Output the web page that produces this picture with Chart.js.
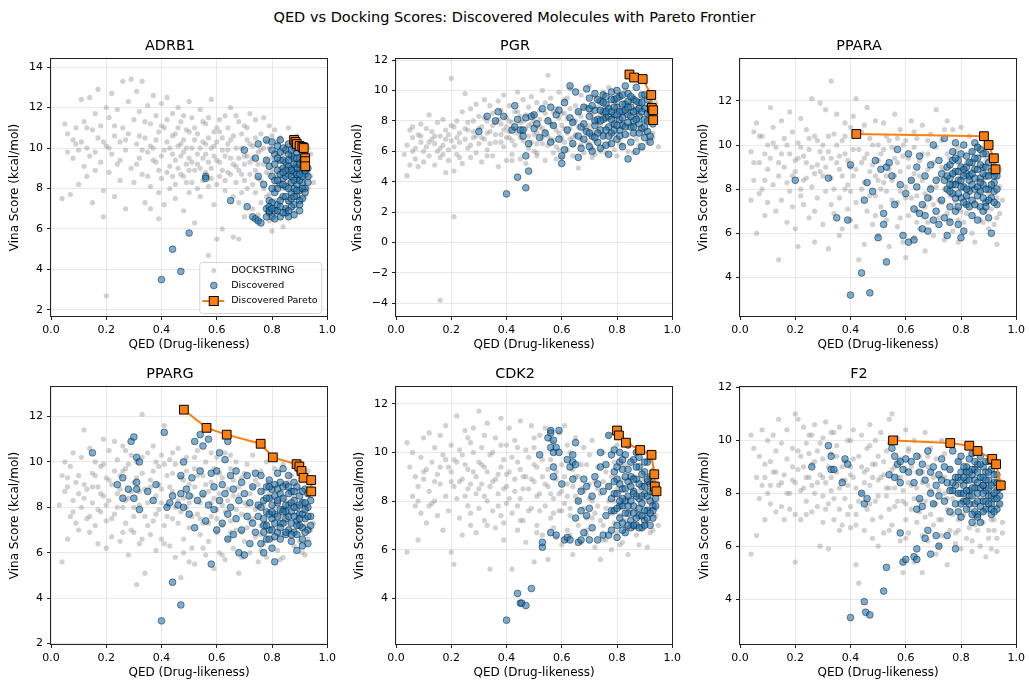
<!DOCTYPE html>
<html>
<head>
<meta charset="utf-8">
<script src="https://cdn.jsdelivr.net/npm/chart.js@4.4.1/dist/chart.umd.min.js"></script>
<style>
  body { margin: 0; width: 1029px; height: 681px; overflow: hidden; background: #fff; font-family: "DejaVu Sans", sans-serif; }
  #suptitle { position: absolute; left: 0; top: 9px; width: 1029px; text-align: center; font-size: 14.5px; line-height: 17px; color: #000; }
  canvas { position: absolute; }
</style>
</head>
<body>
<div id="suptitle">QED vs Docking Scores: Discovered Molecules with Pareto Frontier</div>
<script>
// ---- data: [QED, Vina score] ----
const legendLabels = ['DOCKSTRING', 'Discovered', 'Discovered Pareto'];
const targets = ['ADRB1', 'PGR', 'PPARA', 'PPARG', 'CDK2', 'F2'];
const xTicks = [0, 0.2, 0.4, 0.6, 0.8, 1.0];

// ADRB1
const adrb1Dock = [[.04,7.5],[.05,11.2],[.06,9.8],[.06,10.7],[.07,7.7],[.08,9.5],[.08,10.4],[.09,11.0],[.10,8.2],[.10,9.9],
  [.11,12.4],[.11,10.3],[.12,9.1],[.12,11.3],[.13,8.6],[.13,10.0],[.14,12.5],[.14,9.6],[.15,7.3],[.15,10.9],[.16,11.7],[.16,8.9],[.17,12.9],[.17,10.5],[.18,9.3],[.18,11.1],[.19,7.9],[.19,6.6],
  [.20,2.7],[.20,10.1],[.20,12.0],[.21,8.8],[.21,11.5],[.22,9.7],[.22,12.7],[.23,10.6],[.23,7.6],[.24,11.9],[.24,9.2],[.25,10.3],[.25,8.4],[.26,13.3],[.26,11.0],[.27,9.9],[.27,7.0],[.28,12.3],[.28,10.7],[.29,13.4],[.29,9.0],[.30,11.4],
  [.30,8.3],[.31,10.2],[.31,12.8],[.32,9.5],[.32,11.8],[.33,13.3],[.33,8.7],[.34,10.5],[.34,7.3],[.35,12.1],[.35,9.8],[.36,11.2],[.36,8.1],[.37,10.0],[.37,12.6],[.38,9.3],[.38,11.6],[.39,7.8],[.39,10.8],[.40,12.2],[.40,9.6],[.40,8.5],[.39,6.5],[.36,7.0],
  [.41,11.0],[.41,7.2],[.42,10.3],[.42,12.5],[.43,9.1],[.43,8.0],[.44,11.7],[.44,10.6],[.45,9.4],[.45,7.5],[.46,12.0],[.46,10.1],[.47,8.7],[.47,11.3],[.48,9.8],[.48,6.9],[.49,10.9],[.49,8.3],[.50,12.3],[.50,9.5],[.50,7.8],[.48,10.4],[.46,9.0],[.44,8.6],
  [.51,11.5],[.51,10.0],[.52,8.9],[.52,6.3],[.53,10.7],[.53,9.2],[.54,11.9],[.54,7.6],[.55,10.3],[.55,8.4],[.56,9.7],[.56,11.2],[.57,4.7],[.57,8.1],[.57,10.5],[.58,9.0],[.58,12.4],[.59,7.2],[.59,10.1],[.60,5.5],[.60,9.4],[.60,11.0],
  [.61,8.6],[.61,10.8],[.62,6.0],[.62,9.9],[.63,11.6],[.63,7.9],[.64,10.2],[.64,8.8],[.65,9.5],[.65,12.0],[.66,5.6],[.66,10.6],[.67,8.3],[.67,9.1],[.68,5.5],[.68,11.3],[.68,7.3],[.69,10.0],[.69,8.7],[.70,9.6],[.70,11.1],[.70,6.6],
  [.71,10.4],[.71,8.0],[.72,9.3],[.72,11.7],[.73,7.0],[.73,10.1],[.74,8.9],[.74,11.4],[.75,9.8],[.75,6.7],[.76,10.7],[.76,8.4],[.77,11.5],[.77,9.2],[.78,7.6],[.78,10.3],[.79,8.7],[.79,11.1],[.80,5.9],[.80,9.5],[.80,7.1],[.79,6.4],
  [.81,10.9],[.81,8.1],[.82,9.8],[.82,6.8],[.83,10.5],[.83,7.5],[.84,6.1],[.85,9.1],[.86,11.0],[.86,7.3],[.87,8.5],[.88,6.9],[.89,10.6],[.90,8.0],[.91,9.4],[.92,7.6],[.93,8.8],[.94,9.7],[.95,8.3],[.93,10.0],
  [.31,9.2],[.32,10.6],[.33,9.9],[.34,11.3],[.35,8.6],[.36,10.1],[.37,9.4],[.38,10.4],[.39,8.9],[.40,11.1],[.41,9.9],[.42,8.8],[.42,11.4],[.43,10.0],[.44,9.7],[.45,10.7],[.45,8.2],[.46,11.0],[.47,9.6],[.47,10.2],
  [.48,8.6],[.48,11.6],[.49,9.2],[.49,10.0],[.50,10.8],[.50,8.9],[.51,9.3],[.51,8.3],[.52,10.4],[.52,11.0],[.53,9.7],[.53,8.0],[.54,10.0],[.54,9.0],[.55,11.3],[.55,9.5],[.56,8.8],[.56,10.2],[.57,9.3],[.57,11.5],
  [.58,10.0],[.58,8.5],[.59,9.6],[.59,10.8],[.60,8.2],[.60,10.3],[.61,9.3],[.61,11.4],[.62,8.9],[.62,10.5],[.63,9.6],[.63,8.4],[.64,9.9],[.64,11.0],[.65,8.7],[.65,10.4],[.66,9.2],[.66,7.6],[.67,10.0],[.67,11.6],
  [.68,9.5],[.68,8.9],[.69,10.7],[.69,7.8],[.70,9.2],[.70,8.4],[.71,9.6],[.71,11.0],[.72,8.7],[.72,10.2],[.73,9.5],[.73,8.2],[.74,10.5],[.74,7.8],[.75,9.2],[.75,8.5],[.76,9.9],[.76,7.3],[.77,10.0],[.77,8.0],
  [.78,9.4],[.78,8.8],[.79,10.0],[.79,7.7],[.80,8.9],[.80,10.6],[.81,9.4],[.81,7.4],[.82,8.6],[.82,10.3],[.83,9.0],[.84,8.0],[.84,9.7],[.85,7.0],[.85,10.1],[.86,8.3],[.87,9.5],[.88,7.8],[.89,8.9],[.90,9.9],
  [.91,7.9],[.92,9.0],[.93,8.0],[.94,8.6],[.27,10.4],[.25,9.4],[.23,11.1],[.21,10.0],[.19,10.3],[.16,9.8],[.13,11.0],[.09,10.2]];
const adrb1Disc = [[.40,3.5],[.44,5.0],[.47,3.9],[.50,5.8],[.56,8.6],[.56,8.5],[.65,7.4],[.70,9.9],[.71,7.1],[.73,6.6],[.74,6.5],[.75,6.4],[.76,6.3],[.74,9.5],[.75,10.2],[.75,8.6],[.77,8.2],[.78,10.4],
  [.78,7.0],[.78,9.4],[.79,6.8],[.79,9.1],[.79,7.4],[.80,10.3],[.80,8.6],[.80,6.6],[.81,9.7],[.81,7.8],[.81,6.9],[.82,10.1],[.82,8.9],[.82,7.2],[.83,9.4],[.83,8.2],[.83,6.6],[.83,10.4],[.84,9.0],[.84,7.6],[.84,8.5],[.85,9.9],[.85,8.1],[.85,7.0],[.85,9.3],
  [.86,10.2],[.86,8.7],[.86,7.4],[.86,6.6],[.87,9.6],[.87,8.3],[.87,7.8],[.87,9.0],[.88,10.0],[.88,8.8],[.88,7.2],[.88,8.0],[.88,9.5],[.89,9.2],[.89,7.6],[.89,8.5],[.89,9.8],[.90,8.9],[.90,7.9],[.90,6.9],[.90,9.5],[.91,8.3],[.91,9.1],[.91,7.5],[.91,9.8],
  [.92,8.7],[.92,8.0],[.92,9.3],[.93,8.6],[.93,9.0],[.84,10.0],[.86,9.7],[.83,7.4],[.87,7.1],[.89,8.2],[.90,10.1],[.82,8.0],[.80,7.3],[.85,6.8],
  [.80,9.9],[.81,8.4],[.82,9.5],[.83,8.7],[.83,9.8],[.84,8.2],[.84,9.4],[.85,8.6],[.85,7.6],[.86,9.1],[.86,8.0],[.87,9.9],[.87,8.6],[.87,7.5],[.88,9.2],[.88,8.4],[.88,7.6],[.89,9.0],[.89,8.7],[.89,7.9],
  [.90,9.2],[.90,8.4],[.90,7.4],[.91,8.6],[.91,9.4],[.91,8.0],[.92,8.9],[.92,9.6],[.92,7.8],[.93,8.3],[.86,9.4],[.85,8.9],[.84,8.8],[.82,8.4],[.81,9.2],[.80,8.0],[.79,7.1],[.79,6.9],[.78,6.6],[.80,7.0],
  [.81,6.5],[.82,6.9],[.83,7.1],[.84,6.8],[.86,6.9],[.88,6.7],[.90,7.2],[.87,8.9],[.89,9.5],[.90,8.7]];
const adrb1Pareto = [[.88,10.4],[.885,10.3],[.89,10.2],[.90,10.1],[.91,10.05],[.915,10.0],[.92,9.5],[.92,9.35],[.92,9.1]];

// PGR
const pgrDock = [[.03,5.8],[.04,4.4],[.04,6.4],[.05,7.4],[.05,5.1],[.06,6.9],[.06,7.6],[.07,5.5],[.07,6.2],[.08,7.1],[.08,5.0],[.09,6.6],[.09,7.8],[.10,6.0],[.10,5.3],
  [.11,7.5],[.11,6.3],[.12,8.4],[.12,5.7],[.13,6.8],[.13,7.3],[.14,5.1],[.14,6.5],[.15,7.9],[.15,6.0],[.16,-3.8],[.16,7.0],[.16,5.6],[.17,6.4],[.17,8.1],[.18,4.6],[.18,7.4],[.19,6.1],[.19,5.4],[.20,10.8],[.20,7.7],[.20,6.7],
  [.21,1.7],[.21,4.7],[.21,6.3],[.22,8.0],[.22,5.8],[.23,7.2],[.23,6.6],[.24,8.6],[.24,5.2],[.25,7.5],[.25,9.8],[.26,6.2],[.26,7.9],[.27,5.6],[.27,8.8],[.28,6.9],[.28,7.3],[.29,9.1],[.29,5.9],[.30,8.3],[.30,6.5],
  [.31,7.6],[.31,5.3],[.32,9.4],[.32,6.8],[.33,8.0],[.33,6.1],[.34,7.3],[.34,9.0],[.35,5.7],[.35,8.5],[.36,6.6],[.36,7.9],[.37,9.3],[.37,5.0],[.38,7.1],[.38,8.7],[.39,6.3],[.39,9.7],[.40,7.6],[.40,5.4],[.40,8.2],
  [.41,6.9],[.41,9.0],[.42,5.8],[.42,7.9],[.43,8.6],[.43,6.4],[.44,9.9],[.44,7.2],[.45,5.5],[.45,8.3],[.46,6.7],[.46,9.4],[.47,7.5],[.47,5.2],[.48,8.9],[.48,6.2],[.49,7.8],[.49,9.6],[.50,6.0],[.50,8.4],[.50,7.1],
  [.51,9.2],[.51,5.7],[.52,7.6],[.52,8.7],[.53,6.5],[.53,10.0],[.54,7.3],[.54,5.4],[.55,11.0],[.55,8.1],[.56,6.8],[.56,9.5],[.57,7.7],[.57,5.9],[.58,8.8],[.58,6.3],[.59,9.9],[.59,7.2],[.60,5.6],[.60,8.5],[.60,6.9],
  [.61,9.4],[.61,7.5],[.62,6.1],[.62,8.2],[.63,10.1],[.63,6.8],[.64,7.9],[.64,5.7],[.65,9.0],[.65,7.1],[.66,4.9],[.66,8.6],[.67,6.4],[.67,9.7],[.68,7.4],[.68,5.9],[.69,8.9],[.69,6.6],[.70,10.3],[.70,7.7],
  [.71,6.2],[.71,8.4],[.72,9.6],[.72,5.8],[.73,7.3],[.73,8.9],[.74,6.0],[.75,9.9],[.75,7.0],[.76,5.9],[.76,8.6],[.77,10.2],[.77,6.5],[.78,7.8],[.79,9.3],[.79,6.1],[.80,8.1],[.80,5.7],
  [.81,9.7],[.82,6.4],[.83,7.6],[.83,10.0],[.84,6.0],[.85,8.5],[.86,5.9],[.86,9.6],[.87,6.8],[.88,7.4],[.89,6.2],[.90,9.0],[.91,6.6],[.92,7.9],[.93,6.9],[.94,8.6],[.95,6.3],[.94,9.2],[.93,7.2],
  [.25,6.8],[.26,7.4],[.27,6.4],[.28,8.0],[.29,7.0],[.30,7.5],[.31,6.9],[.32,8.2],[.33,7.2],[.34,6.5],[.35,7.7],[.36,7.1],[.37,8.1],[.38,6.6],[.39,7.4],[.40,6.9],[.41,8.0],[.41,7.3],[.42,6.7],[.43,7.5],
  [.44,8.6],[.45,6.9],[.45,7.9],[.46,7.3],[.47,8.4],[.48,7.0],[.48,7.7],[.49,6.6],[.50,8.0],[.51,7.2],[.51,6.5],[.52,8.1],[.53,7.5],[.53,6.9],[.54,8.5],[.55,7.0],[.55,6.4],[.56,7.8],[.57,8.6],[.57,6.7],
  [.58,7.4],[.59,8.2],[.59,6.1],[.60,7.7],[.61,8.5],[.61,6.6],[.62,7.2],[.63,8.8],[.63,7.5],[.64,6.4],[.65,8.0],[.65,7.0],[.66,7.6],[.67,8.3],[.67,6.8],[.68,8.9],[.69,7.5],[.70,6.5],[.70,8.6],[.71,7.4],
  [.72,8.0],[.72,6.7],[.73,9.3],[.74,7.8],[.74,8.4],[.75,6.3],[.76,7.5],[.77,8.9],[.78,6.8],[.78,8.2],[.79,7.2],[.80,9.2],[.81,6.5],[.82,7.9],[.83,8.6],[.84,7.1],[.85,9.3],[.86,7.6],[.87,8.3],[.88,6.4],
  [.89,8.8],[.90,7.2],[.91,8.0],[.92,6.8],[.14,7.0],[.16,6.2],[.18,6.8],[.19,7.1],[.21,7.6],[.22,6.9],[.23,5.6],[.17,5.8],[.12,6.6],[.09,7.0],[.06,6.0],[.54,9.2],[.46,8.0],[.38,7.8],[.33,5.7],[.42,5.4],
  [.51,5.9],[.58,5.5],[.64,6.9],[.71,5.6],[.62,9.5]];
const pgrDisc = [[.30,7.3],[.33,8.3],[.36,8.0],[.37,8.6],[.39,8.3],[.40,3.2],[.42,7.4],[.43,7.6],[.43,9.0],[.44,8.1],[.44,4.3],[.45,7.4],[.46,7.0],[.46,7.4],[.47,3.6],[.47,5.7],[.47,8.2],[.48,6.5],[.48,4.7],[.49,8.3],
  [.50,7.5],[.50,8.4],[.51,7.8],[.52,6.9],[.53,8.8],[.54,7.2],[.55,8.0],[.56,6.6],[.56,8.9],[.57,7.7],[.58,8.4],[.59,6.8],[.59,8.7],[.60,5.2],[.60,5.7],[.61,6.1],[.61,9.2],[.62,7.4],[.63,10.3],[.63,8.2],
  [.64,6.5],[.64,7.9],[.65,9.9],[.66,5.6],[.66,7.0],[.66,8.6],[.67,6.2],[.67,7.6],[.68,8.9],[.68,6.8],[.69,10.1],[.69,7.3],[.70,6.3],[.70,8.3],[.70,9.5],[.71,7.0],[.71,6.0],[.72,8.7],[.72,9.8],[.72,7.7],
  [.73,6.6],[.73,8.1],[.74,9.3],[.74,7.4],[.74,6.2],[.75,8.6],[.75,9.7],[.75,7.0],[.76,6.4],[.76,8.2],[.76,9.1],[.77,7.6],[.77,5.8],[.77,8.8],[.78,9.9],[.78,7.2],[.78,6.5],[.79,8.4],[.79,9.4],[.79,7.8],
  [.80,6.8],[.80,8.9],[.80,10.0],[.81,7.4],[.81,8.1],[.81,9.6],[.82,6.3],[.82,8.6],[.82,7.7],[.83,10.3],[.83,9.1],[.83,7.1],[.84,5.5],[.84,8.4],[.84,9.8],[.85,7.6],[.85,8.9],[.85,6.6],[.86,9.4],[.86,8.0],
  [.86,7.2],[.87,10.2],[.87,8.7],[.87,6.0],[.88,9.2],[.88,7.8],[.88,8.3],[.89,6.3],[.89,9.7],[.89,7.5],[.90,8.8],[.90,6.9],[.90,8.1],[.91,9.4],[.91,7.3],[.92,8.5],[.92,7.0],[.92,6.6],[.93,7.8],[.93,8.9],
  [.70,8.8],[.71,9.0],[.72,8.0],[.73,9.4],[.73,7.2],[.74,8.7],[.75,8.1],[.75,9.2],[.76,7.4],[.76,9.6],[.77,8.3],[.77,7.0],[.78,8.6],[.78,9.4],[.79,7.4],[.79,8.9],[.80,7.7],[.80,9.5],[.81,8.6],[.81,7.0],
  [.82,9.1],[.82,8.2],[.83,7.6],[.83,8.7],[.84,9.3],[.84,7.9],[.85,8.3],[.85,9.6],[.86,8.6],[.86,7.6],[.87,9.3],[.87,8.1],[.88,8.8],[.88,7.2],[.89,8.6],[.89,9.2],[.90,7.6],[.90,9.7],[.91,8.5],[.91,8.0],
  [.92,9.0],[.78,8.1],[.80,8.4],[.82,9.7],[.84,8.9],[.76,8.6],[.74,8.0],[.72,6.9],[.70,7.2],[.68,7.8]];
const pgrPareto = [[.845,11.05],[.862,10.85],[.893,10.75],[.924,9.7],[.926,8.85],[.931,8.7],[.931,8.05]];

// PPARA
const pparaDock = [[.04,9.7],[.04,7.5],[.05,10.6],[.05,8.4],[.06,11.0],[.06,6.0],[.07,9.2],[.07,7.8],[.08,10.4],[.08,8.0],[.09,6.8],[.09,9.6],[.10,8.9],[.10,10.0],[.10,7.4],
  [.11,11.7],[.11,9.4],[.12,8.2],[.12,10.8],[.13,7.0],[.13,9.9],[.14,4.8],[.14,8.6],[.15,11.1],[.15,7.5],[.16,10.3],[.16,9.0],[.17,6.5],[.17,8.3],[.18,11.5],[.18,9.6],[.19,7.2],[.19,10.6],[.20,8.8],[.20,6.2],[.20,9.3],
  [.21,5.4],[.21,10.1],[.22,8.0],[.22,11.2],[.23,9.5],[.23,7.3],[.24,10.7],[.24,8.5],[.25,6.7],[.25,9.8],[.26,12.1],[.26,8.1],[.27,5.6],[.27,10.4],[.28,9.1],[.28,7.6],[.29,11.9],[.29,8.8],[.30,6.4],[.30,10.0],[.30,9.4],
  [.31,11.6],[.31,7.9],[.32,9.7],[.32,5.3],[.33,12.9],[.33,8.5],[.34,10.5],[.34,6.9],[.35,9.2],[.35,11.4],[.36,7.6],[.36,8.9],[.37,10.2],[.37,6.2],[.38,9.6],[.38,11.0],[.39,8.2],[.39,7.1],[.40,10.8],[.40,9.0],[.40,6.6],
  [.41,8.6],[.41,11.3],[.42,12.1],[.42,7.4],[.43,9.8],[.43,4.8],[.44,8.0],[.44,10.6],[.45,5.5],[.45,9.4],[.46,11.7],[.46,7.0],[.47,8.8],[.47,10.3],[.48,6.4],[.48,9.1],[.49,11.1],[.49,7.7],[.50,8.4],[.50,10.0],[.50,5.9],
  [.51,9.6],[.51,7.2],[.52,11.0],[.52,8.3],[.53,6.6],[.53,10.4],[.54,8.9],[.54,5.4],[.55,9.9],[.55,7.5],[.56,11.4],[.56,8.6],[.57,6.3],[.57,9.2],[.58,10.7],[.58,7.9],[.59,5.6],[.59,9.5],[.60,8.1],[.60,10.2],[.60,4.9],
  [.61,6.8],[.61,9.0],[.62,11.1],[.62,7.6],[.63,8.7],[.63,5.8],[.64,10.3],[.64,7.0],[.65,9.3],[.65,6.2],[.66,8.4],[.66,10.9],[.67,5.2],[.67,7.8],[.68,9.6],[.68,6.5],[.69,8.1],[.69,10.5],[.70,7.3],[.70,5.9],
  [.71,9.9],[.71,11.6],[.72,8.5],[.72,6.7],[.73,10.2],[.73,7.4],[.74,5.7],[.74,8.9],[.75,11.1],[.75,6.9],[.76,9.4],[.76,7.7],[.77,10.7],[.77,6.1],[.78,8.3],[.78,9.7],[.79,5.6],[.79,7.1],[.80,10.8],[.80,8.6],
  [.81,6.5],[.82,9.2],[.82,7.6],[.83,10.4],[.84,6.0],[.84,8.8],[.85,5.6],[.86,7.2],[.86,9.9],[.87,6.6],[.88,8.4],[.89,7.0],[.90,6.2],[.91,8.1],[.92,6.4],[.93,7.6],[.93,5.5],[.94,8.9],[.95,7.5],[.94,6.9],
  [.15,9.6],[.17,10.0],[.19,8.6],[.21,9.4],[.22,9.9],[.23,8.4],[.24,9.2],[.25,10.3],[.26,9.0],[.27,8.7],[.28,10.2],[.29,9.7],[.30,8.6],[.31,9.0],[.32,10.4],[.33,9.4],[.34,8.0],[.35,10.0],[.36,9.5],[.37,8.6],
  [.38,10.4],[.39,9.3],[.40,7.9],[.41,9.8],[.42,8.9],[.43,10.5],[.44,9.2],[.45,8.3],[.46,9.6],[.47,7.7],[.48,10.0],[.49,8.6],[.50,9.3],[.51,8.0],[.52,9.8],[.53,7.9],[.54,10.2],[.55,8.4],[.56,9.4],[.57,7.4],
  [.58,8.8],[.59,10.0],[.60,7.6],[.61,9.4],[.62,8.4],[.63,9.9],[.64,7.7],[.65,8.6],[.66,9.6],[.67,7.2],[.68,8.9],[.69,7.6],[.70,9.2],[.71,8.1],[.72,7.5],[.73,9.0],[.74,8.0],[.75,9.6],[.76,6.6],[.77,8.7],
  [.78,7.4],[.79,9.9],[.80,7.0],[.81,8.9],[.82,6.9],[.83,8.0],[.84,9.7],[.85,7.4],[.86,8.4],[.87,7.9],[.88,6.5],[.89,9.3],[.90,7.8],[.91,7.1],[.92,8.7],[.93,6.7],[.94,8.1],[.45,10.9],[.38,8.0],[.33,7.3],
  [.27,7.0],[.22,7.7],[.18,7.9],[.14,9.2],[.12,10.1],[.09,8.4],[.07,10.4],[.05,9.2],[.53,8.6],[.57,10.3],[.63,10.6],[.68,10.2],[.74,10.7],[.79,6.6],[.64,6.5],[.58,6.7],[.49,6.8],[.42,6.3],[.36,5.9]];
const pparaDisc = [[.20,8.4],[.32,8.5],[.35,6.7],[.39,6.6],[.40,9.1],[.40,3.2],[.44,4.2],[.47,3.3],[.53,4.7],[.45,7.5],[.46,8.3],[.48,7.9],[.50,5.8],[.52,6.9],[.52,6.4],[.49,9.3],[.51,8.9],[.53,9.0],[.54,9.2],[.55,8.6],
  [.56,7.3],[.57,9.8],[.58,8.2],[.59,5.9],[.60,7.8],[.61,5.6],[.61,9.6],[.62,8.4],[.63,5.7],[.63,7.1],[.64,9.0],[.64,8.1],[.65,9.5],[.65,6.9],[.66,7.3],[.66,6.2],[.67,6.8],[.67,8.6],[.68,6.1],[.68,7.6],
  [.69,9.1],[.69,8.0],[.70,6.6],[.70,10.0],[.71,8.4],[.71,7.0],[.72,6.4],[.72,9.3],[.73,8.7],[.73,7.5],[.74,10.3],[.74,6.7],[.75,8.0],[.75,9.0],[.75,5.9],[.76,8.5],[.76,7.2],[.76,6.5],[.77,9.7],[.77,8.2],
  [.77,7.8],[.78,10.1],[.78,8.8],[.78,7.0],[.79,9.3],[.79,8.4],[.79,6.4],[.80,7.6],[.80,5.8],[.80,9.0],[.81,8.1],[.81,6.1],[.81,10.0],[.82,8.7],[.82,7.3],[.82,9.5],[.83,7.9],[.83,8.4],[.84,9.2],[.84,6.8],
  [.84,7.5],[.85,8.9],[.85,10.1],[.85,8.0],[.86,7.7],[.86,9.4],[.86,6.6],[.87,8.5],[.87,9.8],[.87,7.2],[.88,8.2],[.88,9.0],[.88,7.0],[.89,9.6],[.89,8.6],[.89,7.4],[.90,8.0],[.90,9.2],[.90,6.7],[.91,8.8],
  [.91,6.0],[.91,7.6],[.92,8.3],[.92,9.0],[.92,7.9],[.93,8.6],[.93,7.3],
  [.74,8.4],[.75,8.6],[.76,9.1],[.76,7.9],[.77,8.7],[.77,9.3],[.78,8.2],[.78,7.6],[.79,8.8],[.79,7.8],[.80,8.4],[.80,9.6],[.81,8.6],[.81,7.4],[.82,8.0],[.82,9.0],[.83,9.2],[.83,7.2],[.84,8.2],[.84,9.7],
  [.85,8.5],[.85,7.3],[.86,8.9],[.86,8.1],[.87,9.1],[.87,7.9],[.88,8.7],[.88,9.6],[.89,8.0],[.89,9.0],[.90,8.6],[.90,7.5],[.91,9.4],[.91,8.2],[.92,8.6],[.92,7.4],[.93,8.0],[.80,8.1],[.78,9.4],[.83,8.6],
  [.86,9.9],[.88,7.6],[.84,8.7],[.79,7.2],[.81,8.9],[.85,9.4],[.87,8.3],[.89,7.2],[.76,8.2],[.82,7.7]];
const pparaPareto = [[.421,10.5],[.883,10.4],[.90,10.0],[.919,9.4],[.925,8.9]];

// PPARG
const ppargDock = [[.03,8.1],[.04,5.6],[.04,9.4],[.05,8.7],[.05,10.0],[.06,6.6],[.06,8.9],[.07,7.6],[.07,9.8],[.08,8.3],[.08,10.4],[.09,7.3],[.09,9.1],[.10,8.6],[.10,7.0],
  [.11,10.2],[.11,8.0],[.12,11.4],[.12,9.0],[.13,7.5],[.13,8.8],[.14,10.6],[.14,6.9],[.15,9.5],[.15,8.2],[.16,7.2],[.16,10.0],[.17,8.9],[.17,6.4],[.18,9.8],[.18,7.8],[.19,11.0],[.19,8.5],[.20,6.2],[.20,9.3],[.20,7.4],
  [.21,10.5],[.21,8.3],[.22,6.7],[.22,9.0],[.23,10.9],[.23,7.7],[.24,8.6],[.24,10.1],[.25,6.5],[.25,9.4],[.26,8.0],[.26,10.7],[.27,7.3],[.27,9.7],[.28,5.9],[.28,8.4],[.29,10.3],[.29,7.0],[.30,9.1],[.30,6.9],[.30,8.0],
  [.31,4.6],[.31,10.0],[.32,8.7],[.32,6.4],[.33,12.1],[.33,9.5],[.34,5.1],[.34,7.6],[.35,10.4],[.35,8.2],[.36,6.8],[.36,9.2],[.37,7.4],[.37,10.7],[.38,8.5],[.38,6.1],[.39,9.8],[.39,7.9],[.40,8.8],[.40,10.3],[.40,6.6],
  [.41,11.6],[.41,7.2],[.42,9.4],[.42,8.1],[.43,6.3],[.43,10.1],[.44,8.7],[.44,7.5],[.45,9.9],[.45,5.8],[.46,8.3],[.46,10.6],[.47,4.9],[.47,7.8],[.48,9.2],[.48,6.6],[.49,8.0],[.49,10.2],[.50,7.1],[.50,9.0],[.50,5.6],
  [.51,8.5],[.51,6.2],[.52,5.5],[.52,9.7],[.53,7.7],[.53,10.5],[.54,8.2],[.54,6.8],[.55,9.4],[.55,7.3],[.56,5.9],[.56,10.0],[.57,8.7],[.57,6.5],[.58,9.1],[.58,7.6],[.59,5.3],[.59,8.4],[.60,10.2],[.60,6.9],[.60,7.9],
  [.61,9.5],[.61,6.0],[.62,8.1],[.62,7.2],[.63,10.4],[.63,5.7],[.64,8.8],[.64,6.6],[.65,9.7],[.65,7.4],[.66,6.2],[.66,8.5],[.67,10.0],[.67,7.0],[.68,5.1],[.68,8.9],[.69,7.7],[.69,9.3],[.70,6.5],[.70,8.2],
  [.71,9.9],[.71,7.1],[.72,6.0],[.72,8.6],[.73,10.3],[.73,7.5],[.74,6.7],[.74,9.2],[.75,8.0],[.75,5.6],[.76,9.6],[.76,7.2],[.77,6.4],[.77,8.7],[.78,10.0],[.78,5.8],[.79,7.8],[.79,9.1],[.80,6.6],[.80,8.4],
  [.81,9.7],[.82,6.1],[.83,7.6],[.84,9.9],[.84,5.8],[.85,8.3],[.86,6.9],[.87,9.4],[.88,6.3],[.88,10.0],[.89,7.2],[.90,8.8],[.91,6.0],[.92,7.9],[.93,9.6],[.93,6.6],[.94,8.5],[.95,7.3],[.94,9.0],[.92,5.9],
  [.15,8.9],[.16,9.4],[.17,7.9],[.18,8.6],[.19,9.9],[.20,8.1],[.21,9.2],[.22,7.5],[.23,9.6],[.24,8.0],[.25,8.8],[.26,9.6],[.27,8.3],[.28,9.9],[.29,8.7],[.30,7.6],[.31,9.3],[.32,8.1],[.33,10.2],[.34,8.8],
  [.35,7.2],[.36,8.9],[.37,9.6],[.38,7.7],[.39,9.0],[.40,8.2],[.41,9.9],[.42,7.6],[.43,8.9],[.44,9.5],[.45,8.0],[.46,7.3],[.47,9.3],[.48,8.4],[.49,9.6],[.50,8.2],[.51,7.6],[.52,8.9],[.53,9.4],[.54,7.5],
  [.55,8.5],[.56,9.0],[.57,7.3],[.58,8.2],[.59,9.7],[.60,7.5],[.61,8.6],[.62,9.3],[.63,7.8],[.64,8.3],[.65,6.9],[.66,9.2],[.67,7.9],[.68,8.5],[.69,6.9],[.70,9.5],[.71,8.1],[.72,7.4],[.73,8.9],[.74,7.9],
  [.75,9.0],[.76,6.8],[.77,8.1],[.78,7.3],[.79,8.6],[.80,7.1],[.81,8.0],[.82,9.0],[.83,6.8],[.84,8.4],[.85,7.3],[.86,9.1],[.87,7.0],[.88,8.5],[.89,7.7],[.90,6.5],[.91,8.3],[.92,7.2],[.93,8.1],[.94,7.0],
  [.12,8.4],[.10,9.4],[.08,7.8],[.06,9.3],[.14,7.6],[.26,6.9],[.33,6.6],[.41,6.4],[.48,6.0],[.55,6.2],[.62,5.9],[.69,5.8],[.76,6.1],[.83,5.7],[.44,10.4],[.52,10.2],[.58,10.4],[.65,10.3],[.38,10.0],[.27,10.5]];
const ppargDisc = [[.15,10.4],[.24,9.0],[.26,8.4],[.26,9.3],[.28,8.8],[.29,10.9],[.30,11.1],[.30,8.4],[.31,10.2],[.31,9.1],[.31,8.8],[.32,10.0],[.32,7.9],[.35,8.7],[.37,8.3],[.38,9.0],[.40,3.0],[.41,11.3],[.42,8.0],[.43,8.2],
  [.44,4.7],[.44,8.5],[.46,8.1],[.47,3.7],[.47,8.6],[.47,9.4],[.48,10.0],[.48,8.0],[.49,8.8],[.50,7.7],[.50,8.5],[.51,9.3],[.52,10.9],[.52,7.1],[.53,8.3],[.54,11.2],[.54,9.6],[.55,8.6],[.55,10.7],[.56,7.4],
  [.57,8.1],[.57,11.0],[.58,9.5],[.58,5.5],[.59,7.9],[.59,8.9],[.60,7.0],[.60,9.6],[.61,10.4],[.61,8.3],[.62,7.3],[.62,9.0],[.63,8.6],[.63,10.1],[.64,10.9],[.64,6.6],[.64,7.7],[.65,9.4],[.65,8.0],[.66,6.8],
  [.66,8.8],[.67,9.6],[.67,7.5],[.68,6.0],[.68,8.3],[.69,9.1],[.69,7.0],[.70,8.6],[.70,5.9],[.71,7.6],[.71,9.4],[.72,6.4],[.72,8.2],
  [.73,7.3],[.73,8.9],[.74,9.5],[.74,6.9],[.75,8.1],[.75,7.6],[.76,6.4],[.76,8.7],[.76,9.4],[.77,7.2],[.77,8.3],[.77,6.0],[.78,8.9],[.78,7.8],[.78,6.6],[.79,9.2],[.79,7.0],[.79,8.4],[.80,7.5],[.80,6.2],
  [.80,8.8],[.81,9.0],[.81,7.7],[.81,5.6],[.82,8.2],[.82,6.9],[.82,9.5],[.83,7.3],[.83,8.6],[.83,6.6],[.84,9.7],[.84,7.9],[.84,8.4],[.85,6.8],[.85,9.0],[.85,7.5],[.86,8.1],[.86,9.4],[.86,7.0],[.87,8.7],
  [.87,6.5],[.87,7.8],[.88,9.1],[.88,8.3],[.88,6.9],[.89,7.4],[.89,8.9],[.89,6.1],[.90,8.5],[.90,7.7],[.90,9.6],[.91,7.1],[.91,8.2],[.91,6.6],[.92,8.8],[.92,7.5],[.93,8.0],[.93,7.0],[.93,6.4],[.94,8.3],[.94,7.6],
  [.76,8.0],[.77,7.5],[.78,8.4],[.78,7.2],[.79,7.7],[.79,8.9],[.80,8.1],[.80,7.0],[.81,8.5],[.81,6.7],[.82,7.6],[.82,8.8],[.83,7.9],[.83,9.1],[.84,7.3],[.84,8.9],[.85,8.1],[.85,7.8],[.86,7.6],[.86,8.6],
  [.87,8.2],[.87,7.3],[.88,7.6],[.88,8.7],[.89,8.0],[.89,6.8],[.90,8.1],[.90,7.2],[.91,7.7],[.91,8.7],[.92,8.2],[.92,6.9],[.93,7.6],[.93,8.6],[.94,7.2],[.80,7.8],[.82,8.3],[.84,7.8],[.86,8.9],[.88,8.0],
  [.90,7.5],[.92,7.9],[.85,6.9],[.87,6.8],[.89,7.2],[.91,6.3],[.83,7.1],[.81,7.3],[.79,6.6],[.77,6.9]];
const ppargPareto = [[.481,12.3],[.563,11.5],[.636,11.2],[.759,10.8],[.803,10.2],[.889,9.9],[.899,9.8],[.907,9.6],[.914,9.3],[.942,9.2],[.942,8.7]];

// CDK2
const cdk2Dock = [[.04,10.4],[.04,5.9],[.05,9.4],[.06,8.2],[.06,10.0],[.07,7.8],[.07,9.0],[.08,6.4],[.08,8.6],[.09,9.8],[.09,7.5],[.10,10.6],[.10,8.9],
  [.11,9.3],[.11,7.1],[.12,10.8],[.12,8.4],[.13,7.9],[.13,9.6],[.14,10.2],[.14,8.0],[.15,7.4],[.15,9.1],[.16,10.7],[.16,8.7],[.17,6.8],[.17,9.9],[.18,8.2],[.18,11.1],[.19,9.4],[.19,7.6],[.20,5.9],[.20,8.8],[.20,10.3],
  [.21,5.4],[.21,9.7],[.22,8.1],[.22,11.5],[.23,7.3],[.23,10.1],[.24,8.9],[.24,6.6],[.25,9.5],[.25,10.9],[.26,7.8],[.26,8.5],[.27,10.4],[.27,7.0],[.28,9.2],[.28,11.0],[.29,8.3],[.29,6.7],[.30,11.7],[.30,9.6],[.30,7.7],
  [.31,8.7],[.31,10.2],[.32,7.2],[.32,9.4],[.33,11.2],[.33,8.0],[.34,5.2],[.34,9.9],[.35,7.6],[.35,8.8],[.36,10.6],[.36,6.9],[.37,9.1],[.37,8.3],[.38,11.4],[.38,7.4],[.39,9.7],[.39,6.4],[.40,8.6],[.40,10.3],[.40,7.9],
  [.41,9.2],[.41,11.0],[.42,5.2],[.42,7.5],[.43,8.9],[.43,10.5],[.44,6.8],[.44,9.6],[.45,8.1],[.45,11.3],[.46,7.2],[.46,9.0],[.47,10.1],[.47,6.3],[.48,8.5],[.48,9.8],[.49,7.7],[.49,11.1],[.50,5.5],[.50,8.8],[.50,10.2],
  [.51,7.0],[.51,9.4],[.52,8.3],[.52,10.7],[.53,6.6],[.53,9.0],[.54,7.8],[.54,11.0],[.55,5.6],[.55,8.6],[.56,9.7],[.56,7.3],[.57,10.4],[.57,8.1],[.58,6.5],[.58,9.2],[.59,7.6],[.59,10.8],[.60,8.4],[.60,6.2],[.60,9.5],
  [.61,11.1],[.61,7.9],[.62,8.7],[.62,6.8],[.63,10.0],[.63,7.4],[.64,9.3],[.64,5.8],[.65,8.2],[.65,10.6],[.66,7.0],[.66,9.0],[.67,6.3],[.67,8.5],[.68,10.2],[.68,7.7],[.69,9.5],[.69,6.6],[.70,8.1],[.70,9.9],
  [.71,7.3],[.71,10.5],[.72,8.8],[.72,6.1],[.73,9.4],[.73,7.8],[.74,5.6],[.74,8.3],[.75,10.0],[.75,7.0],[.76,9.2],[.76,6.4],[.77,8.6],[.77,10.7],[.78,7.5],[.78,6.0],[.79,9.6],[.79,8.0],[.80,6.7],[.80,10.3],
  [.81,8.4],[.82,6.3],[.83,9.5],[.83,7.2],[.84,5.8],[.85,8.7],[.86,6.9],[.87,10.0],[.87,7.6],[.88,6.2],[.89,8.9],[.90,7.0],[.91,6.1],[.92,8.2],[.92,9.7],[.93,6.8],[.94,7.7],[.95,7.0],[.94,8.9],[.93,9.3],
  [.20,9.2],[.21,8.6],[.22,9.6],[.23,8.8],[.24,9.9],[.25,8.2],[.26,9.3],[.27,8.7],[.28,10.0],[.29,9.0],[.30,8.5],[.31,9.5],[.32,8.2],[.33,9.2],[.34,8.6],[.35,10.0],[.36,8.9],[.37,7.8],[.38,9.4],[.39,8.5],
  [.40,9.1],[.41,8.1],[.42,9.8],[.43,8.4],[.44,7.8],[.45,9.3],[.46,8.5],[.47,9.0],[.48,7.6],[.49,8.9],[.50,9.5],[.51,8.2],[.52,7.6],[.53,9.7],[.54,8.7],[.55,9.3],[.56,8.3],[.57,7.5],[.58,8.9],[.59,8.3],
  [.60,7.6],[.61,9.0],[.62,8.2],[.63,7.7],[.64,8.6],[.65,9.0],[.66,8.0],[.67,9.5],[.68,8.4],[.69,7.3],[.70,8.7],[.71,8.0],[.72,7.5],[.73,8.5],[.74,7.2],[.75,8.8],[.76,7.7],[.77,8.0],[.78,9.0],[.79,7.1],
  [.80,8.5],[.81,7.4],[.82,8.9],[.83,6.9],[.84,8.1],[.85,7.6],[.86,9.0],[.87,6.6],[.88,8.4],[.89,7.3],[.90,8.0],[.91,7.7],[.92,6.7],[.93,8.0],[.94,7.4],[.08,8.0],[.10,9.2],[.12,7.8],[.14,8.8],[.16,9.4],
  [.18,9.7],[.26,10.6],[.32,10.7],[.38,10.3],[.44,10.2],[.50,10.6],[.56,10.5],[.62,10.3],[.27,7.5],[.33,7.0],[.39,7.1],[.45,7.2],[.51,6.7],[.57,6.9],[.63,6.6],[.69,6.8],[.75,6.4],[.81,6.2]];
const cdk2Disc = [[.40,3.1],[.44,4.2],[.45,3.8],[.455,3.8],[.47,3.7],[.49,4.4],[.53,6.1],[.53,6.3],[.52,9.9],
  [.55,10.6],[.56,10.9],[.56,10.8],[.56,10.2],[.57,10.5],[.57,10.0],[.58,10.2],[.59,10.9],[.59,10.0],[.56,6.7],[.57,9.4],[.57,9.0],[.58,6.6],[.60,8.7],
  [.61,6.4],[.62,6.5],[.62,9.7],[.63,9.4],[.63,6.4],[.64,9.6],[.64,9.9],[.64,8.9],[.65,9.5],[.65,7.3],[.65,10.4],[.66,6.3],[.66,8.0],[.67,6.4],[.67,7.6],[.67,8.4],[.68,8.9],[.68,6.7],[.69,7.4],[.69,8.6],
  [.70,6.4],[.70,7.7],[.71,8.2],[.71,6.9],[.72,9.0],[.73,8.7],[.73,6.4],[.74,9.4],[.74,10.0],[.75,6.6],[.75,8.4],
  [.76,9.5],[.76,7.4],[.77,6.6],[.77,8.6],[.77,10.7],[.78,9.9],[.78,7.6],[.78,6.8],[.79,10.1],[.79,8.3],[.79,9.2],[.80,7.0],[.80,8.9],[.80,6.5],[.81,9.6],[.81,7.8],[.81,10.0],[.82,8.5],[.82,7.1],[.82,9.3],
  [.83,6.7],[.83,8.0],[.83,9.9],[.84,7.5],[.84,8.8],[.84,10.3],[.85,9.0],[.85,7.2],[.85,6.9],[.86,8.4],[.86,9.7],[.86,7.8],[.87,8.9],[.87,7.0],[.87,10.0],[.88,8.1],[.88,9.4],[.88,7.4],[.89,8.6],[.89,7.9],
  [.89,6.9],[.90,9.2],[.90,7.2],[.90,8.3],[.91,8.8],[.91,7.6],[.91,9.6],[.92,8.0],[.92,7.0],[.92,8.7],[.93,7.8],[.93,8.4],[.93,7.3],[.94,8.1],
  [.78,8.1],[.79,7.6],[.80,8.3],[.80,9.4],[.81,7.3],[.81,8.7],[.82,9.7],[.82,7.8],[.83,8.5],[.83,7.5],[.84,9.3],[.84,8.2],[.85,8.0],[.85,9.6],[.86,7.5],[.86,8.9],[.87,8.2],[.87,9.4],[.88,8.7],[.88,7.7],
  [.89,9.1],[.89,8.2],[.90,8.6],[.90,7.6],[.91,8.2],[.91,7.3],[.92,8.4],[.92,9.0],[.93,7.6],[.93,8.7],[.94,7.8],[.86,8.3],[.84,7.8],[.82,8.1],[.80,7.7],[.88,9.8],[.90,9.6],[.87,7.3],[.89,7.4],[.91,8.9],
  [.85,8.6],[.83,9.0],[.81,8.0],[.79,8.8],[.92,7.5],[.90,7.0],[.88,6.9],[.86,7.0],[.84,7.0],[.82,6.8]];
const cdk2Pareto = [[.80,10.9],[.807,10.7],[.832,10.4],[.884,10.1],[.925,9.9],[.935,9.1],[.937,8.6],[.943,8.4]];

// F2
const f2Dock = [[.04,10.2],[.04,5.7],[.05,9.7],[.06,8.6],[.06,6.4],[.07,9.4],[.07,7.8],[.08,10.4],[.08,8.3],[.09,7.0],[.09,9.1],[.10,8.0],[.10,10.0],
  [.11,9.2],[.11,7.6],[.12,8.8],[.12,10.2],[.13,7.3],[.13,9.6],[.14,8.3],[.14,10.8],[.15,7.5],[.15,9.9],[.16,8.7],[.16,7.0],[.17,9.3],[.17,10.4],[.18,8.0],[.18,7.4],[.19,9.7],[.19,8.5],[.20,11.0],[.20,5.4],[.20,7.2],
  [.21,10.8],[.21,8.9],[.22,7.0],[.22,9.4],[.23,10.5],[.23,8.2],[.24,7.7],[.24,9.9],[.25,8.6],[.25,10.2],[.26,7.3],[.26,9.1],[.27,10.6],[.27,8.0],[.28,7.5],[.28,9.6],[.29,6.0],[.29,8.7],[.30,10.1],[.30,7.9],[.30,9.3],
  [.31,8.4],[.31,10.7],[.32,5.9],[.32,7.6],[.33,9.5],[.33,8.1],[.34,10.3],[.34,7.0],[.35,8.8],[.35,9.8],[.36,7.4],[.36,10.5],[.37,8.5],[.37,6.8],[.38,9.2],[.38,7.8],[.39,10.0],[.39,8.3],[.40,6.7],[.40,9.0],[.40,7.5],
  [.41,10.4],[.41,8.6],[.42,5.3],[.42,7.2],[.43,4.6],[.43,9.4],[.44,8.0],[.44,10.2],[.45,6.6],[.45,8.8],[.46,9.7],[.46,7.4],[.47,10.6],[.47,8.3],[.48,6.3],[.48,9.1],[.49,7.7],[.49,10.0],[.50,8.5],[.50,6.0],[.50,9.4],
  [.51,7.1],[.51,10.3],[.52,8.7],[.52,6.5],[.53,9.6],[.53,7.9],[.54,10.8],[.54,8.2],[.55,11.0],[.55,6.8],[.56,9.0],[.56,7.5],[.57,8.6],[.57,10.1],[.58,6.2],[.58,9.3],[.59,7.7],[.59,5.0],[.60,8.9],[.60,10.4],[.60,7.0],
  [.61,9.7],[.61,6.5],[.62,8.3],[.62,7.4],[.63,10.0],[.63,5.4],[.64,8.8],[.64,6.9],[.65,9.4],[.65,7.7],[.66,5.0],[.66,8.4],[.67,10.3],[.67,7.1],[.68,9.0],[.68,6.2],[.69,8.1],[.69,9.7],[.70,6.8],[.70,7.6],
  [.71,9.3],[.71,5.7],[.72,8.6],[.72,7.0],[.73,10.0],[.73,6.4],[.74,8.0],[.74,9.5],[.75,5.3],[.75,7.4],[.76,8.9],[.76,6.6],[.77,9.9],[.77,7.8],[.78,6.1],[.78,8.4],[.79,7.0],[.79,9.2],[.80,5.9],[.80,7.7],
  [.81,8.8],[.82,6.3],[.83,7.4],[.84,9.5],[.84,5.8],[.85,6.8],[.86,8.2],[.87,6.0],[.88,7.3],[.89,5.6],[.90,6.6],[.91,8.0],[.91,5.9],[.92,7.0],[.93,6.3],[.94,8.5],[.95,6.9],[.95,6.5],[.94,7.6],[.93,5.8],
  [.20,8.4],[.21,9.6],[.22,8.1],[.23,9.0],[.24,8.6],[.25,9.5],[.26,8.3],[.27,9.2],[.28,8.4],[.29,9.9],[.30,8.6],[.31,7.4],[.32,9.0],[.33,8.6],[.34,7.8],[.35,9.4],[.36,8.2],[.37,9.0],[.38,8.5],[.39,7.2],
  [.40,8.7],[.41,9.3],[.42,8.2],[.43,7.7],[.44,9.0],[.45,8.4],[.46,8.9],[.47,7.6],[.48,8.6],[.49,9.1],[.50,7.9],[.51,8.6],[.52,9.2],[.53,8.2],[.54,7.4],[.55,8.9],[.56,8.2],[.57,7.7],[.58,8.6],[.59,8.1],
  [.60,7.6],[.61,8.4],[.62,9.0],[.63,7.8],[.64,8.2],[.65,7.3],[.66,8.8],[.67,7.7],[.68,8.3],[.69,7.2],[.70,8.6],[.71,7.6],[.72,8.1],[.73,7.0],[.74,8.6],[.75,7.8],[.76,8.2],[.77,7.2],[.78,8.0],[.79,6.6],
  [.80,8.3],[.81,7.2],[.82,7.8],[.83,6.7],[.84,7.6],[.85,7.1],[.86,6.6],[.87,7.8],[.88,6.9],[.89,7.4],[.90,6.3],[.91,7.0],[.92,6.6],[.93,7.5],[.09,8.6],[.11,8.3],[.13,8.8],[.15,8.4],[.17,8.0],[.19,9.0],
  [.26,10.2],[.33,10.3],[.40,10.0],[.47,9.8],[.54,9.9],[.61,9.6],[.68,9.4],[.24,7.2],[.30,6.9],[.36,6.6],[.42,6.8],[.48,7.0],[.54,6.6],[.60,6.3],[.66,6.4],[.72,6.0],[.78,6.5],[.84,6.2]];
const f2Disc = [[.26,9.0],[.32,9.8],[.33,9.4],[.33,8.9],[.34,8.9],[.37,8.4],[.38,9.3],[.39,9.1],[.44,8.0],[.45,7.6],[.46,7.8],[.40,3.3],[.45,3.9],[.455,3.5],[.47,3.4],[.52,4.3],[.53,5.2],[.59,5.4],[.60,5.5],[.58,6.5],
  [.63,5.6],[.64,5.9],[.64,5.5],[.69,5.7],[.72,6.0],[.78,5.9],
  [.54,8.7],[.55,9.7],[.56,9.4],[.56,8.6],[.57,9.1],[.58,8.4],[.58,9.2],[.59,8.9],[.60,9.3],[.61,8.8],[.62,9.2],[.63,8.4],[.64,9.4],[.64,7.4],[.65,8.8],[.65,7.8],[.66,9.1],[.66,7.5],[.67,8.5],[.67,6.3],
  [.68,9.6],[.68,6.6],[.69,8.0],[.69,8.8],[.70,7.6],[.70,9.0],[.71,8.3],[.71,6.4],[.72,8.7],[.72,7.9],[.73,9.3],[.73,8.5],[.74,7.7],[.74,9.0],[.75,8.4],[.75,6.4],
  [.76,8.9],[.76,7.3],[.77,9.6],[.77,8.1],[.78,8.6],[.78,7.6],[.79,9.2],[.79,8.0],[.80,8.8],[.80,7.1],[.80,9.4],[.81,8.3],[.81,7.7],[.82,9.0],[.82,8.5],[.82,7.4],[.83,9.3],[.83,8.1],[.83,7.9],[.84,8.7],
  [.84,6.9],[.84,9.5],[.85,8.2],[.85,7.6],[.85,8.9],[.86,9.1],[.86,8.0],[.86,7.2],[.87,8.6],[.87,9.4],[.87,6.9],[.88,8.3],[.88,7.7],[.88,9.0],[.89,8.8],[.89,7.4],[.89,8.1],[.90,9.2],[.90,7.9],[.90,8.5],
  [.91,7.6],[.91,8.9],[.91,7.2],[.92,8.4],[.92,9.1],[.92,7.8],[.93,8.1],[.93,7.4],[.93,8.7],[.94,7.9],[.94,8.2],
  [.78,8.3],[.79,8.6],[.80,8.0],[.80,8.5],[.81,9.0],[.81,8.0],[.82,8.1],[.82,8.8],[.83,8.5],[.83,7.6],[.84,8.2],[.84,8.9],[.85,8.5],[.85,9.2],[.86,8.4],[.86,7.7],[.87,8.2],[.87,7.5],[.88,8.6],[.88,8.0],
  [.89,8.5],[.89,7.7],[.90,8.2],[.90,8.8],[.91,8.3],[.91,7.9],[.92,8.0],[.92,8.7],[.93,7.8],[.93,8.4],[.94,7.6],[.86,8.8],[.84,7.9],[.82,7.7],[.80,7.6],[.88,8.3],[.90,7.6],[.87,9.1],[.89,9.2],[.85,7.3],
  [.83,8.8],[.81,8.6],[.79,7.3],[.77,8.4],[.76,8.1],[.91,7.4],[.92,7.3],[.88,7.3],[.86,7.1],[.84,7.2]];
const f2Pareto = [[.554,10.0],[.761,9.9],[.83,9.8],[.86,9.6],[.913,9.3],[.927,9.1],[.944,8.3]];

// y axis limits and ticks per target
const yLimits = [[1.7, 14.4], [-4.83, 12.07], [2.25, 13.9], [1.98, 13.3], [2.12, 12.69], [2.3, 12.02]];
const yTicks = [[2,4,6,8,10,12,14], [-4,-2,0,2,4,6,8,10,12], [4,6,8,10,12], [2,4,6,8,10,12], [4,6,8,10,12], [4,6,8,10,12]];

const dockSets = [adrb1Dock, pgrDock, pparaDock, ppargDock, cdk2Dock, f2Dock];
const discSets = [adrb1Disc, pgrDisc, pparaDisc, ppargDisc, cdk2Disc, f2Disc];
const paretoSets = [adrb1Pareto, pgrPareto, pparaPareto, ppargPareto, cdk2Pareto, f2Pareto];

// ---- styles ----
const GRAY = 'rgba(140,140,140,0.4)';
const BLUE = 'rgba(31,119,180,0.6)';
const BLUE_EDGE = 'rgba(0,0,0,0.6)';
const ORANGE = '#ff7f0e';

Chart.defaults.font.family = "'DejaVu Sans', sans-serif";
Chart.defaults.color = '#000';

// matplotlib-like box around the axes
const framePlugin = {
  id: 'frame',
  afterDatasetsDraw(chart) {
    const {ctx, chartArea: a} = chart;
    ctx.save();
    ctx.strokeStyle = '#222';
    ctx.lineWidth = 1;
    ctx.strokeRect(Math.round(a.left) - 0.5, Math.round(a.top) - 0.5,
      Math.round(a.right - a.left) + 1, Math.round(a.bottom - a.top) + 1);
    ctx.restore();
  }
};

// legend box in the lower right corner of the first panel
const boxLegend = {
  id: 'boxLegend',
  afterDraw(chart, args, opts) {
    if (!opts.show) return;
    const {ctx, chartArea: a} = chart;
    const w = 122, h = 51;
    const x0 = a.right - 6 - w, y0 = a.bottom - 3 - h;
    ctx.save();
    ctx.beginPath();
    if (ctx.roundRect) ctx.roundRect(x0 + 0.5, y0 + 0.5, w, h, 3); else ctx.rect(x0 + 0.5, y0 + 0.5, w, h);
    ctx.fillStyle = 'rgba(255,255,255,0.8)';
    ctx.fill();
    ctx.strokeStyle = '#d4d4d4';
    ctx.lineWidth = 1;
    ctx.stroke();

    const rows = [y0 + 8.5, y0 + 23.5, y0 + 39];
    const mx = x0 + 14.5;
    ctx.beginPath();
    ctx.arc(mx, rows[0], 2.5, 0, Math.PI * 2);
    ctx.fillStyle = GRAY;
    ctx.fill();

    ctx.beginPath();
    ctx.arc(mx, rows[1], 3.4, 0, Math.PI * 2);
    ctx.fillStyle = BLUE;
    ctx.fill();
    ctx.strokeStyle = BLUE_EDGE;
    ctx.lineWidth = 0.7;
    ctx.stroke();

    ctx.beginPath();
    ctx.moveTo(x0 + 3, rows[2]);
    ctx.lineTo(x0 + 25, rows[2]);
    ctx.strokeStyle = ORANGE;
    ctx.lineWidth = 2;
    ctx.stroke();
    ctx.fillStyle = ORANGE;
    ctx.fillRect(mx - 4.5, rows[2] - 4.5, 9, 9);
    ctx.strokeStyle = '#000';
    ctx.lineWidth = 1;
    ctx.strokeRect(mx - 4.5, rows[2] - 4.5, 9, 9);

    ctx.font = "9.5px 'DejaVu Sans'";
    ctx.fillStyle = '#000';
    ctx.textBaseline = 'middle';
    legendLabels.forEach((t, i) => ctx.fillText(t, x0 + 32, rows[i]));
    ctx.restore();
  }
};

const plotLefts = [51, 396, 740];
const plotTops = [59, 387];
const yTitleOffset = [7.8, 6.1, 8.0, 7.8, 8.1, 8.8];

targets.forEach((name, i) => {
  const col = i % 3, row = Math.floor(i / 3);
  const canvas = document.createElement('canvas');
  canvas.width = 340;
  canvas.height = 326;
  canvas.style.left = (plotLefts[col] - 51) + 'px';
  canvas.style.top = (plotTops[row] - 29) + 'px';
  document.body.appendChild(canvas);

  const tickFont = {size: 11};
  const labelFont = {size: 12};
  new Chart(canvas, {
    type: 'scatter',
    data: {
      datasets: [
        {
          label: legendLabels[2], data: paretoSets[i], showLine: true, order: 0,
          borderColor: ORANGE, borderWidth: 2, tension: 0,
          pointStyle: 'rect', pointRadius: 6.2, pointBackgroundColor: ORANGE,
          pointBorderColor: '#000', pointBorderWidth: 1
        },
        {
          label: legendLabels[1], data: discSets[i], order: 1,
          pointRadius: 3.4, backgroundColor: BLUE, borderColor: BLUE_EDGE, borderWidth: 0.7
        },
        {
          label: legendLabels[0], data: dockSets[i], order: 2,
          pointRadius: 2.6, backgroundColor: GRAY, borderWidth: 0
        }
      ]
    },
    options: {
      responsive: false,
      animation: false,
      events: [],
      layout: {padding: 0},
      plugins: {
        legend: {display: false},
        tooltip: {enabled: false},
        title: {
          display: true, text: name, color: '#000',
          font: {size: 14.4, weight: 'normal'},
          padding: {top: 8.0, bottom: 3.7}
        },
        boxLegend: {show: i === 0}
      },
      scales: {
        x: {
          type: 'linear', min: 0, max: 1,
          afterBuildTicks: axis => { axis.ticks = xTicks.map(v => ({value: v})); },
          afterFit: axis => { axis.height = 40; },
          ticks: {callback: v => v.toFixed(1), font: tickFont, color: '#000', padding: 4, maxRotation: 0, autoSkip: false},
          grid: {color: 'rgba(176,176,176,0.35)', lineWidth: 0.8, tickColor: '#222', tickLength: 4, tickWidth: 1},
          border: {display: false},
          title: {display: true, text: 'QED (Drug-likeness)', font: labelFont, color: '#000', padding: {top: 0, bottom: 3.8}}
        },
        y: {
          type: 'linear', min: yLimits[i][0], max: yLimits[i][1],
          afterBuildTicks: axis => { axis.ticks = yTicks[i].map(v => ({value: v})); },
          afterFit: axis => { axis.width = 51; },
          ticks: {callback: v => String(v).replace('-', '\u2212'), font: tickFont, color: '#000', padding: 4, autoSkip: false},
          grid: {color: 'rgba(176,176,176,0.35)', lineWidth: 0.8, tickColor: '#222', tickLength: 4, tickWidth: 1},
          border: {display: false},
          title: {display: true, text: 'Vina Score (kcal/mol)', font: labelFont, color: '#000', padding: {top: yTitleOffset[i], bottom: 0}}
        }
      }
    },
    plugins: [framePlugin, boxLegend]
  });
});
</script>
</body>
</html>
